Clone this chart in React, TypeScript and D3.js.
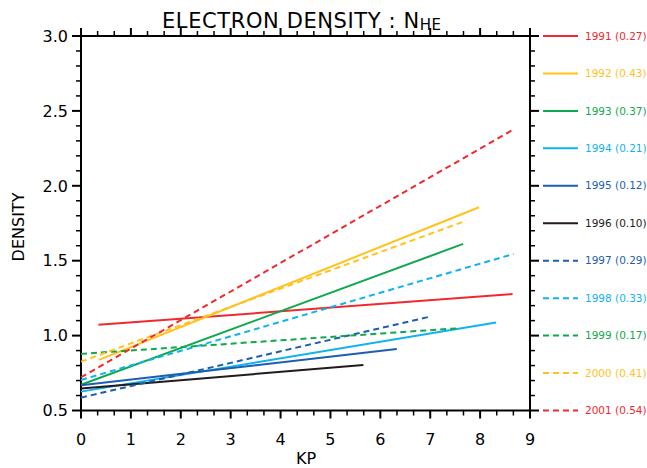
import React from "react";
import * as d3 from "d3";

// fitted lines per year: start/end in (kp, density)
const years = ["1991", "1992", "1993", "1994", "1995", "1996", "1997", "1998", "1999", "2000", "2001"];
const corr = ["0.27", "0.43", "0.37", "0.21", "0.12", "0.10", "0.29", "0.33", "0.17", "0.41", "0.54"];
const kpStart = [0.35, 0.36, 0, 0, 0, 0, 0, 0, 0, 0, 0];
const kpEnd = [8.65, 7.98, 7.66, 8.32, 6.33, 5.66, 7.0, 8.67, 7.6, 7.66, 8.67];
const densStart = [1.072, 0.838, 0.672, 0.626, 0.668, 0.647, 0.586, 0.704, 0.878, 0.826, 0.722];
const densEnd = [1.277, 1.857, 1.612, 1.087, 0.911, 0.804, 1.127, 1.545, 1.05, 1.76, 2.376];
const colors = ["#ee2a2e", "#ffc21e", "#0fa84c", "#10b2ef", "#1c5eaf", "#231a1a", "#1c5eaf", "#10b2ef", "#0fa84c", "#ffc21e", "#ee2a2e"];
const dashed = [false, false, false, false, false, false, true, true, true, true, true];

const xTicks = [0, 1, 2, 3, 4, 5, 6, 7, 8, 9];
const yTicks = [0.5, 1.0, 1.5, 2.0, 2.5, 3.0];

const W = 647;
const H = 468;
const font = "DejaVu Sans, sans-serif";

export default function App() {
  const x = d3.scaleLinear().domain([0, 9]).range([81, 530]);
  const y = d3.scaleLinear().domain([0.5, 3.0]).range([410.5, 36]);

  const xMinor = d3.range(0, 27).map((i) => i / 3).filter((v) => Math.abs(v - Math.round(v)) > 1e-6);
  const yMinor = d3.range(5, 31).map((i) => i / 10).filter((v) => Math.abs(v * 2 - Math.round(v * 2)) > 1e-6);

  const line = d3.line<[number, number]>().x((d) => x(d[0])).y((d) => y(d[1]));

  const [x0, x1] = x.range();
  const [y0, y1] = y.range();

  return (
    <svg width={W} height={H} style={{ position: "absolute", left: 0, top: 0, background: "#fff" }}>
      {/* title */}
      <text x={162} y={28} fontFamily={font} fontSize={21} letterSpacing={0.6} fill="#000">
        ELECTRON DENSITY : N
        <tspan fontSize={15} dy={2}>HE</tspan>
      </text>

      {/* frame */}
      <rect x={x0} y={y1} width={x1 - x0} height={y0 - y1} fill="none" stroke="#000" strokeWidth={2} />

      {/* x ticks bottom + top */}
      {xTicks.map((t) => (
        <g key={"xt" + t}>
          <line x1={x(t)} x2={x(t)} y1={y0} y2={y0 + 8} stroke="#000" strokeWidth={2} />
          <line x1={x(t)} x2={x(t)} y1={y1} y2={y1 - 8} stroke="#000" strokeWidth={2} />
          <text x={x(t)} y={445} textAnchor="middle" fontFamily={font} fontSize={16} fill="#000">
            {t}
          </text>
        </g>
      ))}
      {xMinor.map((t, i) => (
        <g key={"xm" + i}>
          <line x1={x(t)} x2={x(t)} y1={y0} y2={y0 + 5} stroke="#000" strokeWidth={1.5} />
          <line x1={x(t)} x2={x(t)} y1={y1} y2={y1 - 5} stroke="#000" strokeWidth={1.5} />
        </g>
      ))}

      {/* y ticks left + right */}
      {yTicks.map((t) => (
        <g key={"yt" + t}>
          <line x1={x0} x2={x0 - 9} y1={y(t)} y2={y(t)} stroke="#000" strokeWidth={2} />
          <line x1={x1} x2={x1 + 9} y1={y(t)} y2={y(t)} stroke="#000" strokeWidth={2} />
          <text x={68} y={y(t)} dy="0.36em" textAnchor="end" fontFamily={font} fontSize={16} fill="#000">
            {d3.format(".1f")(t)}
          </text>
        </g>
      ))}
      {yMinor.map((t, i) => (
        <g key={"ym" + i}>
          <line x1={x0} x2={x0 - 5} y1={y(t)} y2={y(t)} stroke="#000" strokeWidth={1.5} />
          <line x1={x1} x2={x1 + 5} y1={y(t)} y2={y(t)} stroke="#000" strokeWidth={1.5} />
        </g>
      ))}

      {/* axis labels */}
      <text x={306} y={464} textAnchor="middle" fontFamily={font} fontSize={16} fill="#000">
        KP
      </text>
      <text
        transform={`translate(24, 227) rotate(-90)`}
        textAnchor="middle"
        fontFamily={font}
        fontSize={16}
        fill="#000"
      >
        DENSITY
      </text>

      {/* regression lines */}
      {years.map((yr, i) => (
        <path
          key={"l" + yr}
          d={line([[kpStart[i], densStart[i]], [kpEnd[i], densEnd[i]]]) || ""}
          fill="none"
          stroke={colors[i]}
          strokeWidth={2}
          strokeDasharray={dashed[i] ? "6,4" : undefined}
        />
      ))}

      {/* legend */}
      {years.map((yr, i) => {
        const ly = y(3.0 - i * 0.25);
        return (
          <g key={"lg" + yr}>
            <line x1={543} x2={578} y1={ly} y2={ly} stroke={colors[i]} strokeWidth={2}
              strokeDasharray={dashed[i] ? "6,4" : undefined} />
            <text x={585} y={ly} dy="0.35em" fontFamily={font} fontSize={10.5} fill={colors[i]}>
              {yr} ({corr[i]})
            </text>
          </g>
        );
      })}
    </svg>
  );
}
